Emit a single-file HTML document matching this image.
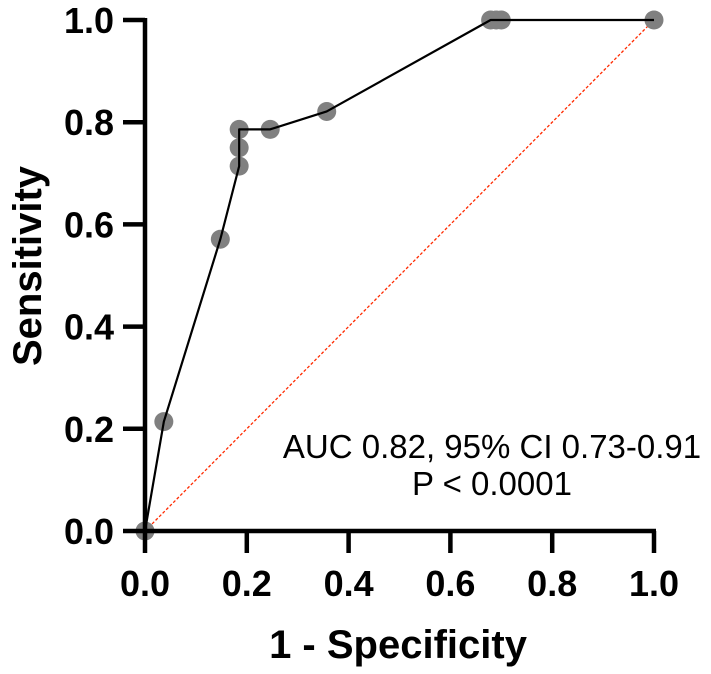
<!DOCTYPE html>
<html><head><meta charset="utf-8"><style>
html,body{margin:0;padding:0;background:#fff;}
svg{display:block;font-family:"Liberation Sans",Arial,sans-serif;}
</style></head><body>
<svg id="chart" width="711" height="674" viewBox="0 0 711 674">
<g id="plot"></g>
</svg>
<script>
const fpr = [0, 0.037, 0.148, 0.185, 0.185, 0.185, 0.246, 0.357, 0.679, 0.69, 0.70, 1.0];
const tpr = [0, 0.214, 0.571, 0.714, 0.75, 0.786, 0.786, 0.821, 1.0, 1.0, 1.0, 1.0];
const xTicks = ["0.0","0.2","0.4","0.6","0.8","1.0"];
const yTicks = ["0.0","0.2","0.4","0.6","0.8","1.0"];

const NS = "http://www.w3.org/2000/svg";
const g = document.getElementById('plot');
const X0 = 145, X1 = 654, Y0 = 531, Y1 = 20;
const xs = v => X0 + v * (X1 - X0);
const ys = v => Y0 - v * (Y0 - Y1);
function mk(tag, attrs){ const e = document.createElementNS(NS, tag); for (const k in attrs) e.setAttribute(k, attrs[k]); g.appendChild(e); return e; }

let diag = mk('line',{x1:xs(0),y1:ys(0),x2:xs(1),y2:ys(1),stroke:'#ff2a00','stroke-width':1.3,'stroke-dasharray':'3,2'});



for (let i = 0; i < fpr.length; i++) {
  const c = mk('circle',{cx:xs(fpr[i]),cy:ys(tpr[i]),r:9.5,fill:'#808080'});
  
  
}
const pts = fpr.map((v,i)=>xs(v)+','+ys(tpr[i])).join(' ');
const pl = mk('polyline',{points:pts,fill:'none',stroke:'#000','stroke-width':2.2,'stroke-linejoin':'round'});



const ya = mk('line',{x1:X0,y1:Y1-2,x2:X0,y2:Y0+22,stroke:'#000','stroke-width':4.5});


const xa = mk('line',{x1:X0-22,y1:Y0,x2:X1+2,y2:Y0,stroke:'#000','stroke-width':4.5});



xTicks.forEach((t,i)=>{
  const v = i/(xTicks.length-1);
  if (i>0){ const tk = mk('line',{x1:xs(v),y1:Y0,x2:xs(v),y2:Y0+22,stroke:'#000','stroke-width':4.5});
    
     }
  const tx = mk('text',{x:xs(v),y:596,'text-anchor':'middle','font-size':36,'font-weight':'bold'});
  tx.textContent = t;
  
  
});
yTicks.forEach((t,i)=>{
  const v = i/(yTicks.length-1);
  if (i>0){ const tk = mk('line',{x1:X0-22,y1:ys(v),x2:X0,y2:ys(v),stroke:'#000','stroke-width':4.5});
    
     }
  const tx = mk('text',{x:114,y:ys(v)+13,'text-anchor':'end','font-size':36,'font-weight':'bold'});
  tx.textContent = t;
  
  
});

const xt = mk('text',{x:398,y:658,'text-anchor':'middle','font-size':40,'font-weight':'bold'});
xt.textContent = '1 - Specificity';


const yt = mk('text',{x:0,y:0,'text-anchor':'middle','font-size':40,'font-weight':'bold',transform:'translate(41,266) rotate(-90)'});
yt.textContent = 'Sensitivity';



const a1 = mk('text',{x:492,y:458,'text-anchor':'middle','font-size':33});
a1.textContent = 'AUC 0.82, 95% CI 0.73-0.91';


const a2 = mk('text',{x:492,y:495,'text-anchor':'middle','font-size':33});
a2.textContent = 'P < 0.0001';


</script>
</body></html>
